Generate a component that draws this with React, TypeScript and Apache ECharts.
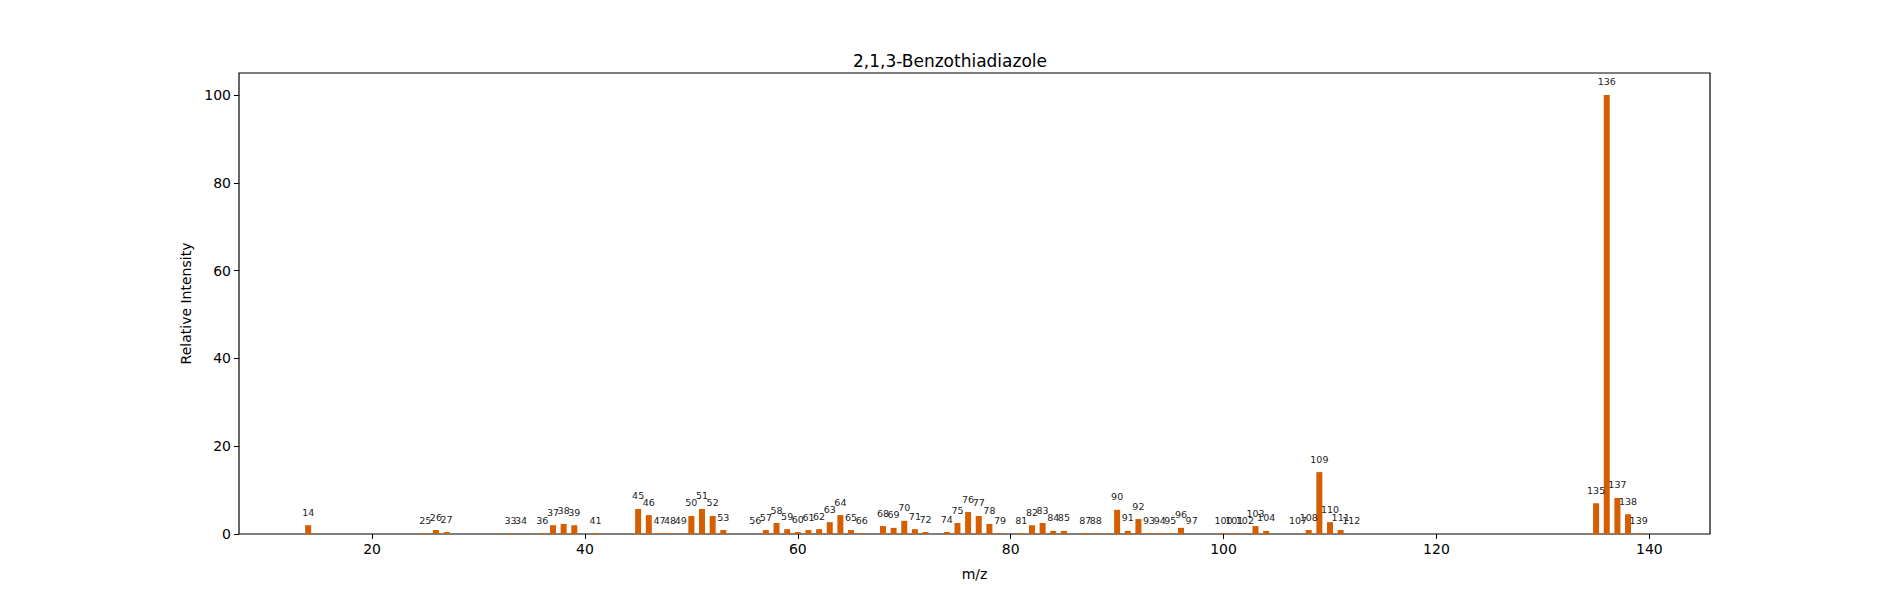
import React, { useEffect, useRef } from "react";
import * as echarts from "echarts";

const mz = [14,25,26,27,33,34,36,37,38,39,41,45,46,47,48,49,50,51,52,53,56,57,58,59,60,61,62,63,64,65,66,68,69,70,71,72,74,75,76,77,78,79,81,82,83,84,85,87,88,90,91,92,93,94,95,96,97,100,101,102,103,104,107,108,109,110,111,112,135,136,137,138,139];
const intensity = [2.0,0.2,0.9,0.45,0.2,0.05,0.2,2.0,2.3,2.0,0.2,5.7,4.3,0.2,0.2,0.05,4.1,5.7,4.1,0.9,0.05,0.9,2.5,1.1,0.45,0.9,1.1,2.7,4.3,0.9,0.2,1.8,1.4,3.0,1.1,0.45,0.45,2.5,5.0,4.1,2.3,0.2,0.2,2.0,2.5,0.7,0.7,0.2,0.2,5.5,0.7,3.4,0.2,0.2,0.2,1.4,0.05,0.2,0.2,0.05,1.8,0.7,0.05,0.9,14.1,2.7,0.9,0.05,7.0,100,8.2,4.5,0.2];
const xTicks = [20,40,60,80,100,120,140];
const yTicks = [0,20,40,60,80,100];

export default function App() {
  const ref = useRef<HTMLDivElement>(null);
  useEffect(() => {
    const chart = echarts.init(ref.current!, null, { renderer: "svg" });
    const font = "DejaVu Sans";
    chart.setOption({
      animation: false,
      textStyle: { fontFamily: font },
      title: { text: "2,1,3-Benzothiadiazole", left: "center", top: 39, textStyle: { fontFamily: font, fontSize: 17, fontWeight: "normal", color: "#000" } },
      grid: { left: 231, right: 182, top: 65, bottom: 58, show: true, borderColor: "#000", borderWidth: 1.2, containLabel: false },
      xAxis: {
        type: "value", min: 7.5, max: 145.7,
        name: "m/z", nameLocation: "middle", nameGap: 33, nameTextStyle: { fontSize: 14, color: "#000" },
        splitLine: { show: false },
        axisLine: { show: false, onZero: false },
        axisTick: { show: true, customValues: xTicks, length: 5, lineStyle: { color: "#000" } },
        axisLabel: { customValues: xTicks, fontSize: 14, color: "#000", margin: 8 },
      },
      yAxis: {
        type: "value", min: 0, max: 105,
        name: "Relative Intensity", nameLocation: "middle", nameGap: 42, nameTextStyle: { fontSize: 14, color: "#000" },
        splitLine: { show: false },
        axisLine: { show: false },
        axisTick: { show: true, customValues: yTicks, length: 5, lineStyle: { color: "#000" } },
        axisLabel: { customValues: yTicks, fontSize: 14, color: "#000", margin: 8 },
      },
      series: [{
        type: "bar",
        barWidth: 6,
        itemStyle: { color: "#D55E00" },
        data: mz.map((m, i) => [m, intensity[i]]),
        label: { show: true, position: "top", distance: 8, fontSize: 9.5, color: "#222", formatter: (p: any) => String(p.value[0]) },
        labelLayout: { hideOverlap: false },
      }],
    });
    return () => chart.dispose();
  }, []);
  return <div ref={ref} style={{ width: 1884, height: 584 }} />;
}
